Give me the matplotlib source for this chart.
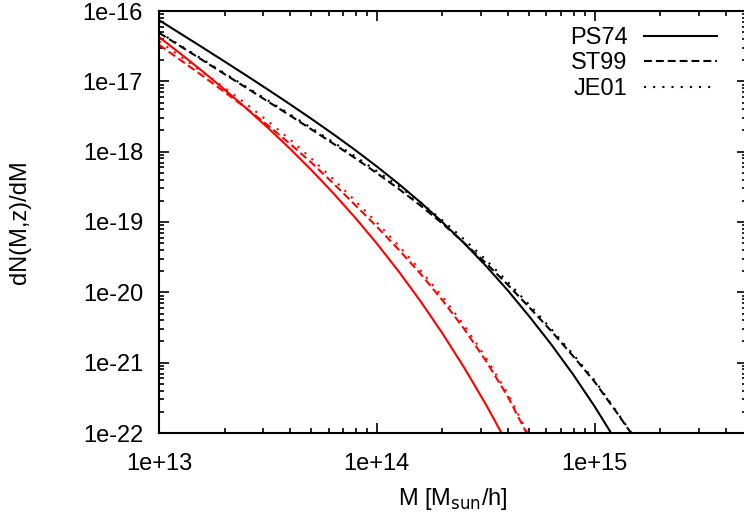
import matplotlib.pyplot as plt
from matplotlib.ticker import LogLocator, NullFormatter
import numpy as np

plt.rcParams['font.family'] = ['Liberation Sans', 'DejaVu Sans']

# log10 of mass grid and log10 of dN/dM
logm = [13.0, 13.1, 13.2, 13.3, 13.4, 13.5, 13.6, 13.7, 13.8, 13.9, 14.0, 14.1,
        14.2, 14.3, 14.4, 14.5, 14.6, 14.7, 14.8, 14.9, 15.0, 15.1, 15.2]

# z = 0 (black)
ps74_z0 = [-16.13, -16.324, -16.519, -16.716, -16.915, -17.117, -17.323, -17.534,
           -17.751, -17.976, -18.211, -18.458, -18.720, -19.000, -19.300, -19.622,
           -19.969, -20.344, -20.739, -21.164, -21.624, -22.124, -22.67]
st99_z0 = [-16.31, -16.504, -16.699, -16.896, -17.090, -17.287, -17.483, -17.684,
           -17.886, -18.091, -18.306, -18.528, -18.765, -19.020, -19.295, -19.582,
           -19.889, -20.214, -20.549, -20.904, -21.274, -21.704, -22.149]
je01_z0 = [-16.30, -16.494, -16.688, -16.884, -17.077, -17.272, -17.466, -17.664,
           -17.866, -18.066, -18.276, -18.490, -18.720, -18.973, -19.245, -19.537,
           -19.849, -20.179, -20.519, -20.879, -21.254, -21.694, -22.14]

# higher redshift (red)
ps74_z1 = [-16.37, -16.610, -16.858, -17.115, -17.382, -17.661, -17.954, -18.263,
           -18.590, -18.937, -19.307, -19.702, -20.125, -20.579, -21.067, -21.592,
           -22.157]
st99_z1 = [-16.48, -16.70, -16.923, -17.15, -17.382, -17.626, -17.884, -18.158,
           -18.45, -18.757, -19.067, -19.392, -19.735, -20.109, -20.517, -20.972,
           -21.477, -22.077]
je01_z1 = [-16.43, -16.65, -16.87, -17.09, -17.32, -17.566, -17.824, -18.098,
           -18.39, -18.697, -19.009, -19.337, -19.685, -20.059, -20.467, -20.927,
           -21.437, -22.047]

x_ticks = [1e13, 1e14, 1e15]
x_labels = ['1e+13', '1e+14', '1e+15']
y_ticks = [1e-22, 1e-21, 1e-20, 1e-19, 1e-18, 1e-17, 1e-16]
y_labels = ['1e-22', '1e-21', '1e-20', '1e-19', '1e-18', '1e-17', '1e-16']

fig = plt.figure(figsize=(7.44, 5.21), dpi=100)
ax = fig.add_axes([159 / 744, 88 / 521, 588 / 744, 422 / 521])

def curva(vals):
    n = len(vals)
    return 10 ** np.array(logm[:n]), 10 ** np.array(vals)

lw = 1.5
dash = (0, (3.8, 1.9))
dots = (0, (1, 3.4))
ax.plot(*curva(ps74_z0), color='black', lw=lw, ls='-', label='PS74')
ax.plot(*curva(st99_z0), color='black', lw=lw, ls=dash, label='ST99')
ax.plot(*curva(je01_z0), color='black', lw=lw, ls=dots, label='JE01')
ax.plot(*curva(ps74_z1), color='red', lw=lw, ls='-')
ax.plot(*curva(st99_z1), color='red', lw=lw, ls=dash)
ax.plot(*curva(je01_z1), color='red', lw=lw, ls=dots)

ax.set_xscale('log')
ax.set_yscale('log')
ax.set_xlim(1e13, 5e15)
ax.set_ylim(1e-22, 1e-16)
ax.set_xticks(x_ticks)
ax.set_xticklabels(x_labels)
ax.set_yticks(y_ticks)
ax.set_yticklabels(y_labels)
ax.xaxis.set_minor_locator(LogLocator(base=10, subs=np.arange(2, 10)))
ax.yaxis.set_minor_locator(LogLocator(base=10, subs=np.arange(2, 10)))
ax.xaxis.set_minor_formatter(NullFormatter())
ax.yaxis.set_minor_formatter(NullFormatter())
ax.tick_params(which='both', direction='in', top=True, right=True, labelsize=17, width=1.2)
ax.tick_params(which='major', length=7.2)
ax.tick_params(which='minor', length=3.6)
ax.tick_params(axis='x', which='major', pad=14.5)
ax.tick_params(axis='y', which='major', pad=11.5)
for s in ax.spines.values():
    s.set_linewidth(1.5)

ax.set_xlabel('M [M$_{\\rm sun}$/h]', fontsize=17, labelpad=8)
ax.set_ylabel('dN(M,z)/dM', fontsize=17, labelpad=37)

leg = ax.legend(loc='upper right', bbox_to_anchor=(0.985, 1.013), frameon=False, fontsize=17,
                markerfirst=False, handlelength=3.1, handletextpad=0.68, labelspacing=0.15)

fig.savefig('out.png', dpi=100)
